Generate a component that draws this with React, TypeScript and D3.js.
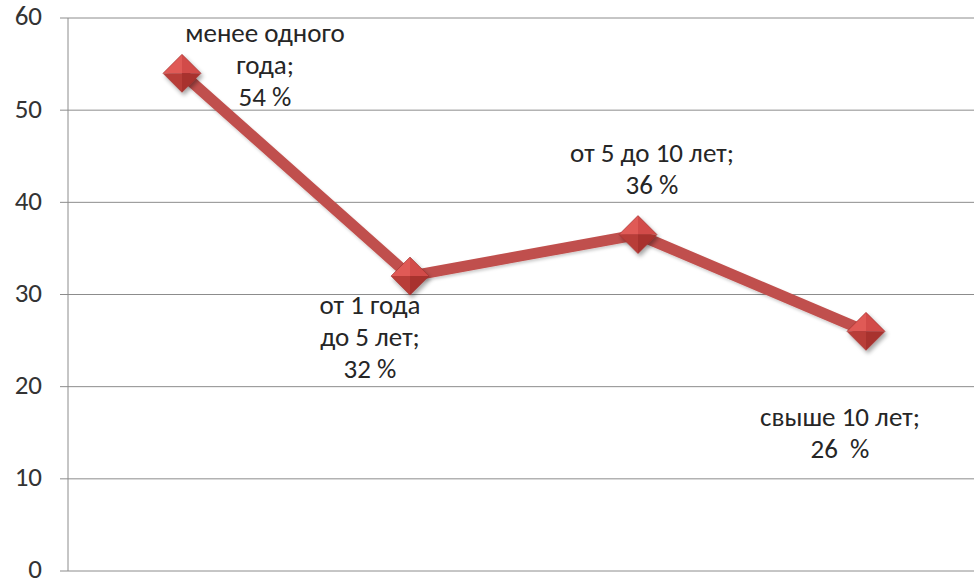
import * as d3 from "d3";

const categories = ["менее одного года", "от 1 года до 5 лет", "от 5 до 10 лет", "свыше 10 лет"];
const values = [54, 32, 36.5, 26];
const labelLines = [
  ["менее одного", "года;", "54 %"],
  ["от 1 года", "до 5 лет;", "32 %"],
  ["от 5 до 10 лет;", "36 %"],
  ["свыше 10 лет;", "26  %"],
];
const yTicks = [0, 10, 20, 30, 40, 50, 60];

// label placement relative to the marker (px)
const labelOffsets = [
  { dx: 83, dy: -38 },
  { dx: -40, dy: 31 },
  { dx: 14, dy: -79 },
  { dx: -26, dy: 88 },
];

const WIDTH = 974;
const HEIGHT = 580;
const LINE_COLOR = "#c0504d";
const FONT = "Carlito, 'Open Sans', 'Noto Sans', sans-serif";

function Diamond({ x, y, r }: { x: number; y: number; r: number }) {
  return (
    <g transform={`translate(${x}, ${y})`} filter="url(#shadow)">
      <path d={`M0,${-r}L${-r},0L0,0Z`} fill="#e05a57" />
      <path d={`M0,${-r}L${r},0L0,0Z`} fill="#d24c49" />
      <path d={`M${-r},0L0,${r}L0,0Z`} fill="#b83c39" />
      <path d={`M${r},0L0,${r}L0,0Z`} fill="#a8302d" />
      <path d={`M0,${-r}L${r},0L0,${r}L${-r},0Z`} fill="none" stroke="#9c2c2a" strokeWidth={0.6} />
    </g>
  );
}

export default function App() {
  const margin = { left: 68, top: 18, bottom: 9 };
  const x = d3.scalePoint<string>().domain(categories).range([margin.left, 980]).padding(0.5);
  const y = d3.scaleLinear().domain([0, 60]).range([HEIGHT - margin.bottom, margin.top]);

  const line = d3
    .line<number>()
    .x((_, i) => x(categories[i]) ?? 0)
    .y((d) => y(d));

  return (
    <svg
      width={WIDTH}
      height={HEIGHT}
      style={{ position: "absolute", left: 0, top: 0, background: "#fff" }}
      fontFamily={FONT}
    >
      <defs>
        <filter id="shadow" x="-50%" y="-50%" width="200%" height="200%">
          <feDropShadow dx={2} dy={3} stdDeviation={2} floodColor="#000" floodOpacity={0.35} />
        </filter>
        <filter id="lineShadow" x="-10%" y="-10%" width="120%" height="130%">
          <feDropShadow dx={1} dy={2} stdDeviation={1.5} floodColor="#000" floodOpacity={0.2} />
        </filter>
      </defs>

      {/* gridlines + y axis */}
      {yTicks.map((t) => (
        <g key={t}>
          <line x1={margin.left - 8} x2={WIDTH} y1={y(t)} y2={y(t)} stroke="#8c8c8c" strokeWidth={1} />
          <text
            x={42}
            y={y(t) + 1}
            textAnchor="end"
            dominantBaseline="middle"
            fontSize={27}
            fill="#333"
          >
            {t}
          </text>
        </g>
      ))}
      <line x1={margin.left} x2={margin.left} y1={y(60)} y2={y(0)} stroke="#8c8c8c" strokeWidth={1} />

      {/* series line */}
      <path
        d={line(values) || ""}
        fill="none"
        stroke={LINE_COLOR}
        strokeWidth={11}
        strokeLinejoin="round"
        filter="url(#lineShadow)"
      />

      {values.map((v, i) => (
        <Diamond key={i} x={x(categories[i]) ?? 0} y={y(v)} r={19} />
      ))}

      {/* data labels */}
      {values.map((v, i) => {
        const cx = (x(categories[i]) ?? 0) + labelOffsets[i].dx;
        const cy = y(v) + labelOffsets[i].dy;
        return (
          <text
            key={i}
            textAnchor="middle"
            fontSize={27}
            fill="#262626"
            style={{ whiteSpace: "pre" }}
          >
            {labelLines[i].map((s, j) => (
              <tspan key={j} x={cx} y={cy + j * 32} dominantBaseline="middle">
                {s}
              </tspan>
            ))}
          </text>
        );
      })}
    </svg>
  );
}
